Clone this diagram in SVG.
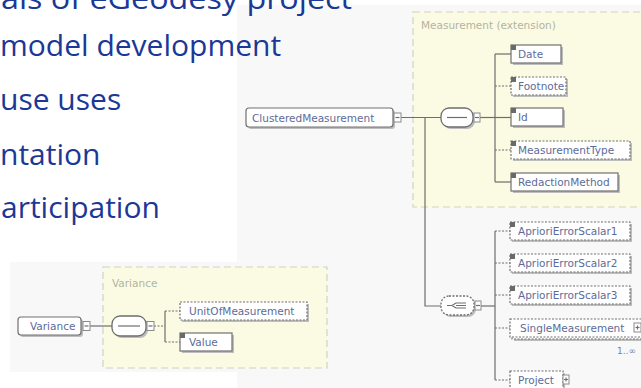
<svg xmlns="http://www.w3.org/2000/svg" width="641" height="388" viewBox="0 0 641 388">
<style>
.slide{font-family:"Open Sans","Noto Sans",sans-serif;font-size:30px;fill:#1b3896}
.bg{fill:#f8f8f8}
.grp{fill:#fbfbe3;stroke:#d2d2bf;stroke-width:1.2;stroke-dasharray:7 4}
.ttl{font-family:"DejaVu Sans",sans-serif;font-size:10.5px;fill:#b3b3a2}
.el{fill:#fff;stroke:#707070;stroke-width:1.2}
.opt{stroke-dasharray:2 1.5}
.sh{fill:#bdbdbd}
.lbl{font-family:"DejaVu Sans",sans-serif;font-size:10.5px;fill:#5d6b98}
.ico{fill:#6a6a6a}
.cn{stroke:#6e6e6e;stroke-width:1.2;fill:none}
.dash{stroke-dasharray:2 1.5}
.ind{fill:#fff;stroke:#8a8a8a;stroke-width:1}
.cmp{fill:#fff;stroke:#6e6e6e;stroke-width:1.3}
.occ{font-family:"DejaVu Sans",sans-serif;font-size:9px;fill:#6f80b5}
</style>

<!-- screenshot backgrounds -->
<rect class="bg" x="237" y="5" width="404" height="383"/>
<rect class="bg" x="10" y="262" width="322" height="110"/>

<!-- slide text -->
<g id="slide-text">
<text class="slide" x="1" y="9" textLength="351" lengthAdjust="spacingAndGlyphs">als of eGeodesy project</text>
<text class="slide" x="0" y="56">model development</text>
<text class="slide" x="0" y="110">use uses</text>
<text class="slide" x="0" y="165">ntation</text>
<text class="slide" x="1" y="218">articipation</text>
</g>

<!-- groups -->
<g id="measurement-ext">
<rect class="grp" x="413" y="12" width="240" height="195"/>
<text class="ttl" x="421" y="29">Measurement (extension)</text>
</g>
<g id="variance-grp">
<rect class="grp" x="103" y="267" width="224" height="101"/>
<text class="ttl" x="112" y="287">Variance</text>
</g>

<!-- connectors -->
<g id="connectors">
<path class="cn" d="M401 117.5H441"/>
<path class="cn" d="M425 117.5V306H441"/>
<path class="cn" d="M480 117.5H495"/>
<path class="cn" d="M495 54V182"/>
<path class="cn" d="M495 54H511"/>
<path class="cn dash" d="M495 86H511"/>
<path class="cn" d="M495 117.5H511"/>
<path class="cn dash" d="M495 150H511"/>
<path class="cn" d="M495 182H511"/>
<path class="cn" d="M481 306H495"/>
<path class="cn" d="M495 231V380"/>
<path class="cn dash" d="M495 231H510"/>
<path class="cn dash" d="M495 263H510"/>
<path class="cn dash" d="M495 295H510"/>
<path class="cn dash" d="M495 328H510"/>
<path class="cn dash" d="M495 380H510"/>
<path class="cn" d="M90 326H112"/>
<path class="cn dash" d="M154 326H165"/>
<path class="cn" d="M165 311V342"/>
<path class="cn dash" d="M165 311H180"/>
<path class="cn dash" d="M165 342H180"/>
</g>

<!-- ClusteredMeasurement -->
<g id="ClusteredMeasurement">
<rect class="sh" x="248" y="110" width="147" height="19" rx="3"/>
<rect class="el" x="246" y="108" width="147" height="19" rx="3"/>
<text class="lbl" x="252" y="121.5">ClusteredMeasurement</text>
<rect class="ind" x="394" y="113" width="7" height="9"/>
<path class="cn" d="M395.5 117.5H399.5"/>
</g>

<!-- sequence compositor -->
<g id="seq-measurement">
<rect class="sh" x="443" y="110" width="32" height="19" rx="8"/>
<rect class="cmp" x="441" y="108" width="32" height="19" rx="8"/>
<path class="cn" d="M447 117.5H467"/>
<rect class="ind" x="474" y="113" width="6" height="9"/>
<path class="cn" d="M475 117.5H479"/>
</g>

<!-- choice compositor -->
<g id="choice">
<rect class="sh" x="443" y="298" width="33" height="19" rx="8"/>
<rect class="cmp opt" x="441" y="296" width="33" height="19" rx="8"/>
<path class="cn" d="M447 305.5H452M452 305.5L456 303H466M456 305.5H466M452 305.5L456 308H466"/>
<rect class="ind" x="475" y="301" width="6" height="9"/>
<path class="cn" d="M476 305.5H480"/>
</g>

<!-- Measurement children -->
<g id="Date">
<rect class="sh" x="513" y="47" width="50" height="18"/>
<rect class="el" x="511" y="45" width="50" height="18"/>
<rect class="ico" x="511" y="45" width="5" height="5"/>
<text class="lbl" x="518" y="57.5">Date</text>
</g>
<g id="Footnote">
<rect class="sh" x="513" y="79" width="55" height="18"/>
<rect class="el opt" x="511" y="77" width="55" height="18"/>
<rect class="ico" x="511" y="77" width="5" height="5"/>
<text class="lbl" x="518" y="89.5">Footnote</text>
</g>
<g id="Id">
<rect class="sh" x="513" y="110" width="52" height="18"/>
<rect class="el" x="511" y="108" width="52" height="18"/>
<rect class="ico" x="511" y="108" width="5" height="5"/>
<text class="lbl" x="518" y="121">Id</text>
</g>
<g id="MeasurementType">
<rect class="sh" x="513" y="143" width="119" height="18"/>
<rect class="el opt" x="511" y="141" width="119" height="18"/>
<rect class="ico" x="511" y="141" width="5" height="5"/>
<text class="lbl" x="518" y="153.5">MeasurementType</text>
</g>
<g id="RedactionMethod">
<rect class="sh" x="513" y="175" width="107" height="18"/>
<rect class="el" x="511" y="173" width="107" height="18"/>
<rect class="ico" x="511" y="173" width="5" height="5"/>
<text class="lbl" x="518" y="185.5">RedactionMethod</text>
</g>

<!-- choice children -->
<g id="AprioriErrorScalar1">
<rect class="sh" x="512" y="224" width="120" height="18"/>
<rect class="el opt" x="510" y="222" width="120" height="18"/>
<rect class="ico" x="510" y="222" width="5" height="5"/>
<text class="lbl" x="518" y="234.5">AprioriErrorScalar1</text>
</g>
<g id="AprioriErrorScalar2">
<rect class="sh" x="512" y="256" width="120" height="18"/>
<rect class="el opt" x="510" y="254" width="120" height="18"/>
<rect class="ico" x="510" y="254" width="5" height="5"/>
<text class="lbl" x="518" y="266.5">AprioriErrorScalar2</text>
</g>
<g id="AprioriErrorScalar3">
<rect class="sh" x="512" y="288" width="120" height="18"/>
<rect class="el opt" x="510" y="286" width="120" height="18"/>
<rect class="ico" x="510" y="286" width="5" height="5"/>
<text class="lbl" x="518" y="298.5">AprioriErrorScalar3</text>
</g>
<g id="SingleMeasurement">
<rect class="sh" x="514" y="323" width="140" height="18"/>
<rect class="el opt" x="512" y="321" width="140" height="18"/>
<rect class="el opt" x="510" y="319" width="140" height="18"/>
<text class="lbl" x="520" y="331.5">SingleMeasurement</text>
<rect class="ind" x="634" y="323" width="7" height="9"/>
<path class="cn" d="M635.5 327.5H639.5M637.5 325.5V329.5"/>
<text class="occ" x="617" y="354">1..∞</text>
</g>
<g id="Project">
<rect class="sh" x="512" y="373" width="53" height="18"/>
<rect class="el opt" x="510" y="371" width="53" height="18"/>
<text class="lbl" x="518" y="384">Project</text>
<rect class="ind" x="563" y="375" width="6" height="9"/>
<path class="cn" d="M564 379.5H568M566 377.5V381.5"/>
</g>

<!-- Variance diagram -->
<g id="Variance">
<rect class="sh" x="20" y="319" width="63" height="18" rx="3"/>
<rect class="el" x="18" y="317" width="63" height="18" rx="3"/>
<text class="lbl" x="30" y="330">Variance</text>
<rect class="ind" x="83" y="321.5" width="7" height="9"/>
<path class="cn" d="M84.5 326H88.5"/>
</g>
<g id="seq-variance">
<rect class="sh" x="114" y="318" width="34" height="20" rx="8"/>
<rect class="cmp" x="112" y="316" width="34" height="20" rx="8"/>
<path class="cn" d="M118 326H140"/>
<rect class="ind" x="147" y="321.5" width="7" height="9"/>
<path class="cn" d="M148.5 326H152.5"/>
</g>
<g id="UnitOfMeasurement">
<rect class="sh" x="182" y="304" width="127" height="18"/>
<rect class="el opt" x="180" y="302" width="127" height="18"/>
<text class="lbl" x="189" y="314.5">UnitOfMeasurement</text>
</g>
<g id="Value">
<rect class="sh" x="182" y="335" width="52" height="18"/>
<rect class="el" x="180" y="333" width="52" height="18"/>
<rect class="ico" x="180" y="333" width="5" height="5"/>
<text class="lbl" x="189" y="345.5">Value</text>
</g>
</svg>
